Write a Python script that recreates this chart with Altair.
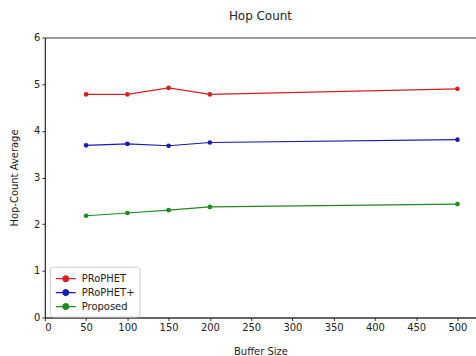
import altair as alt
import pandas as pd

buffer_sizes = [50, 100, 150, 200, 500]
prophet = [4.78, 4.78, 4.92, 4.78, 4.90]
prophet_plus = [3.69, 3.72, 3.68, 3.75, 3.81]
proposed = [2.18, 2.24, 2.30, 2.37, 2.43]
series_names = ["PRoPHET", "PRoPHET+", "Proposed"]
series_colors = ["#d62020", "#1a1ab4", "#1f8a1f"]

rows = []
for name, vals in zip(series_names, [prophet, prophet_plus, proposed]):
    for b, v in zip(buffer_sizes, vals):
        rows.append({"Buffer": b, "Value": v, "Series": name})
df = pd.DataFrame(rows)

legend_path = "M-1.43,0L1.43,0M-0.42,0A0.42,0.42 0 1,1 0.42,0A0.42,0.42 0 1,1 -0.42,0Z"

x = alt.X("Buffer:Q", title="Buffer Size",
          scale=alt.Scale(domain=[0, 522.5], nice=False, zero=False),
          axis=alt.Axis(values=list(range(0, 501, 50)), grid=False, tickSize=3,
                        titlePadding=14))
y = alt.Y("Value:Q", title="Hop-Count Average",
          scale=alt.Scale(domain=[0, 6], nice=False),
          axis=alt.Axis(values=[0, 1, 2, 3, 4, 5, 6], grid=False, tickSize=3,
                        titlePadding=14))
color = alt.Color("Series:N",
                  scale=alt.Scale(domain=series_names, range=series_colors),
                  legend=alt.Legend(
                      title=None, orient="none", legendX=5, legendY=230,
                      symbolType=legend_path, symbolSize=196, symbolStrokeWidth=1.2,
                      labelFontSize=10, labelColor="#222", rowPadding=0,
                      labelFont="DejaVu Sans", labelOffset=8,
                      padding=4, strokeColor="#ccc", fillColor="white",
                      cornerRadius=3, symbolOffset=4,
                  ))

base = alt.Chart(df).encode(x=x, y=y, color=color)
lines = base.mark_line(strokeWidth=1.2)
points = base.mark_point(filled=True, size=22, opacity=1)

chart = alt.layer(lines, points).properties(
    width=432.6,
    height=281,
    title=alt.TitleParams("Hop Count", fontSize=12, fontWeight="normal", color="#222",
                          font="DejaVu Sans", offset=10),
    padding={"left": 45, "top": 37, "right": 0, "bottom": 38},
    autosize=alt.AutoSizeParams(type="none"),
).configure_view(
    stroke="#333", strokeWidth=1
).configure_axis(
    domainColor="#333", tickColor="#333", labelColor="#222", titleColor="#222",
    labelFontSize=10, titleFontSize=10, titleFontWeight="normal",
    labelFont="DejaVu Sans", titleFont="DejaVu Sans"
)

chart.save("out.html", embed_options={"renderer": "svg", "actions": False})
